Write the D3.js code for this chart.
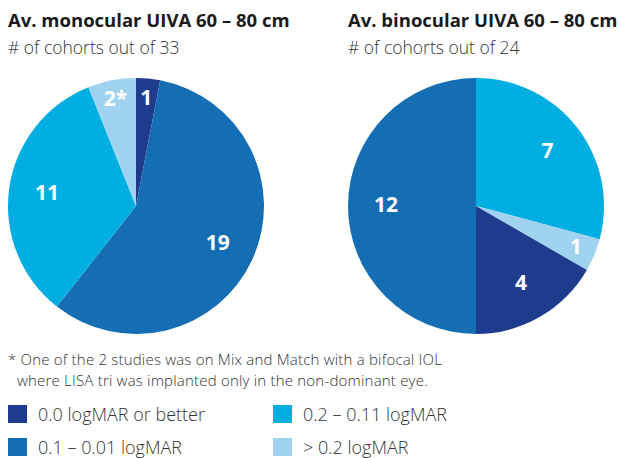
<!DOCTYPE html>
<html>
<head>
<meta charset="utf-8">
<script src="https://cdn.jsdelivr.net/npm/d3@7"></script>
<style>
  body { margin: 0; background: #fff; }
  svg { display: block; font-family: "Open Sans", "Noto Sans", sans-serif; }
</style>
</head>
<body>
<svg width="620" height="458"></svg>
<script>
var categories = ["0.0 logMAR or better", "0.1 \u2013 0.01 logMAR", "0.2 \u2013 0.11 logMAR", "> 0.2 logMAR"];
var colors = ["#1e3b8e", "#156eb3", "#00aee2", "#a0d3f0"];

// slice order is clockwise from 12 o'clock
var monoOrder = [0, 1, 2, 3];
var monoValues = [1, 19, 11, 2];
var monoLabels = ["1", "19", "11", "2*"];

var binoOrder = [2, 3, 0, 1];
var binoValues = [7, 1, 4, 12];
var binoLabels = ["7", "1", "4", "12"];

var svg = d3.select("svg");
var radius = 128;

var pie = d3.pie().sort(null).value(function(d) { return d.value; });
var arc = d3.arc().innerRadius(0).outerRadius(radius);

function drawPie(cx, cy, order, values, labels) {
  var data = values.map(function(v, i) {
    return { value: v, cat: order[i], label: labels[i] };
  });
  var total = d3.sum(values);
  var g = svg.append("g").attr("transform", "translate(" + cx + "," + cy + ")");
  var arcs = pie(data);

  g.selectAll("path")
    .data(arcs)
    .enter().append("path")
    .attr("d", arc)
    .attr("fill", function(d) { return colors[d.data.cat]; });

  g.selectAll("text")
    .data(arcs)
    .enter().append("text")
    .attr("transform", function(d) {
      var r = d.data.value / total < 0.1 ? 108 : 90;
      var c = d3.arc().innerRadius(r).outerRadius(r).centroid(d);
      return "translate(" + c[0] + "," + c[1] + ")";
    })
    .attr("text-anchor", "middle")
    .attr("dy", "0.3em")
    .attr("fill", "#fff")
    .attr("font-weight", "bold")
    .attr("font-size", 21)
    .text(function(d) { return d.data.label; });
}

drawPie(136, 206, monoOrder, monoValues, monoLabels);
drawPie(476, 206, binoOrder, binoValues, binoLabels);

// titles
function title(x, t, sub) {
  svg.append("text").attr("x", x).attr("y", 27)
    .attr("font-size", 18.5).attr("font-weight", "bold").attr("fill", "#1a1a1a")
    .text(t);
  svg.append("text").attr("x", x).attr("y", 54)
    .attr("font-size", 17.5).attr("font-weight", 300).attr("fill", "#333")
    .text(sub);
}
title(8, "Av. monocular UIVA 60 \u2013 80 cm", "# of cohorts out of 33");
title(348, "Av. binocular UIVA 60 \u2013 80 cm", "# of cohorts out of 24");

// footnote
svg.append("text").attr("x", 8).attr("y", 365)
  .attr("font-size", 15).attr("font-weight", 300).attr("fill", "#333")
  .attr("letter-spacing", 0.2)
  .text("* One of the 2 studies was on Mix and Match with a bifocal IOL");
svg.append("text").attr("x", 17).attr("y", 386)
  .attr("font-size", 15).attr("font-weight", 300).attr("fill", "#333")
  .attr("letter-spacing", 0.2)
  .text("where LISA tri was implanted only in the non-dominant eye.");

// legend
var legendPos = [[8, 405], [8, 438], [273, 405], [273, 438]];
var legend = svg.selectAll(".legend")
  .data(categories)
  .enter().append("g")
  .attr("class", "legend")
  .attr("transform", function(d, i) { return "translate(" + legendPos[i][0] + "," + legendPos[i][1] + ")"; });

legend.append("rect")
  .attr("width", 19).attr("height", 18)
  .attr("fill", function(d, i) { return colors[i]; });

legend.append("text")
  .attr("x", 30).attr("y", 16)
  .attr("font-size", 18).attr("font-weight", 300).attr("fill", "#333")
  .text(function(d) { return d; });
</script>
</body>
</html>
